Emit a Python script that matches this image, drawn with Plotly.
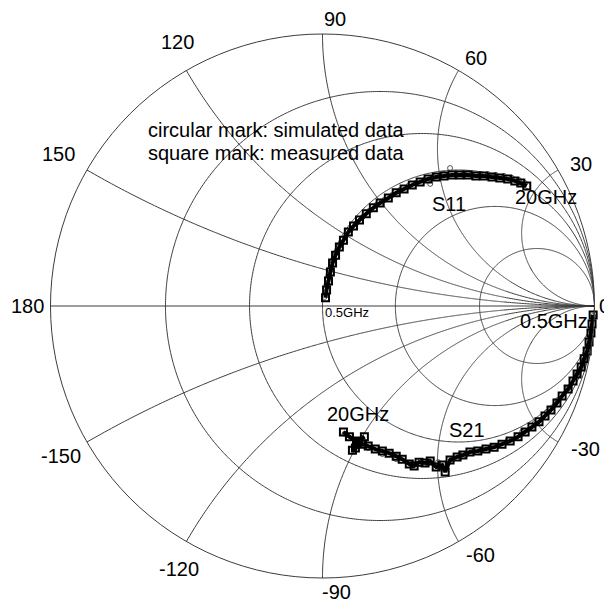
import numpy as np
import plotly.graph_objects as go

# ---------------- data (reflection / transmission coefficient, Re & Im) ----------------
s11_meas_re = [0.011, 0.015, 0.022, 0.029, 0.037, 0.048, 0.062, 0.077, 0.095, 0.114, 0.136, 0.161,
               0.187, 0.212, 0.242, 0.271, 0.300, 0.330, 0.359, 0.388, 0.418, 0.447, 0.476, 0.505,
               0.535, 0.564, 0.593, 0.623, 0.652, 0.681, 0.707, 0.729, 0.751]
s11_meas_im = [0.030, 0.059, 0.092, 0.125, 0.158, 0.187, 0.217, 0.242, 0.272, 0.294, 0.316, 0.339,
               0.361, 0.379, 0.397, 0.416, 0.430, 0.445, 0.456, 0.467, 0.474, 0.478, 0.482, 0.482,
               0.482, 0.478, 0.478, 0.474, 0.471, 0.467, 0.460, 0.452, 0.441]

s11_sim_re = [0.007, 0.011, 0.018, 0.026, 0.037, 0.048, 0.066, 0.084, 0.103, 0.125, 0.147, 0.172,
              0.198, 0.227, 0.256, 0.286, 0.315, 0.344, 0.374, 0.396, 0.418, 0.447, 0.469, 0.491,
              0.520, 0.549, 0.579, 0.608, 0.637, 0.667, 0.696, 0.722, 0.744]
s11_sim_im = [0.033, 0.066, 0.100, 0.133, 0.165, 0.195, 0.224, 0.253, 0.279, 0.305, 0.327, 0.350,
              0.372, 0.390, 0.408, 0.427, 0.441, 0.452, 0.463, 0.449, 0.478, 0.485, 0.507, 0.482,
              0.489, 0.485, 0.485, 0.485, 0.482, 0.478, 0.471, 0.463, 0.452]

s21_meas_re = [0.995, 0.991, 0.987, 0.980, 0.973, 0.962, 0.951, 0.936, 0.921, 0.903, 0.881, 0.862,
               0.840, 0.818, 0.796, 0.770, 0.745, 0.719, 0.690, 0.660, 0.631, 0.601, 0.571, 0.542,
               0.516, 0.495, 0.469, 0.451, 0.440, 0.418, 0.396, 0.377, 0.355, 0.337, 0.319, 0.293,
               0.271, 0.245, 0.220, 0.194, 0.168, 0.147, 0.121, 0.110, 0.132, 0.154, 0.125, 0.099,
               0.077]
s21_meas_im = [-0.033, -0.066, -0.099, -0.132, -0.165, -0.194, -0.224, -0.250, -0.276, -0.305, -0.331,
               -0.357, -0.382, -0.404, -0.426, -0.445, -0.463, -0.481, -0.496, -0.508, -0.519, -0.526,
               -0.533, -0.537, -0.548, -0.555, -0.566, -0.610, -0.585, -0.592, -0.570, -0.577, -0.574,
               -0.588, -0.581, -0.563, -0.552, -0.541, -0.533, -0.526, -0.515, -0.508, -0.522, -0.530,
               -0.500, -0.481, -0.496, -0.481, -0.463]

s21_sim_re = [0.995, 0.990, 0.980, 0.962, 0.936, 0.903, 0.865, 0.825, 0.781, 0.734, 0.682, 0.631,
              0.579, 0.527, 0.476, 0.425, 0.374, 0.322, 0.271, 0.220, 0.168, 0.121, 0.081]
s21_sim_im = [-0.037, -0.088, -0.143, -0.198, -0.250, -0.302, -0.346, -0.390, -0.430, -0.463, -0.492,
              -0.515, -0.533, -0.548, -0.563, -0.574, -0.581, -0.577, -0.563, -0.544, -0.522, -0.496,
              -0.470]

# Smith-chart grid values (normalised resistance / reactance)
grid_r = [0.268, 0.577, 1.0, 1.732, 3.732]
grid_x = [0.268, 0.577, 1.0, 1.732, 3.732]

# angle labels around the chart
angle_text = ["0", "30", "60", "90", "120", "150", "180", "-150", "-120", "-90", "-60", "-30"]

FONT = "Liberation Sans, Arial, sans-serif"


def to_polar(re, im):
    g = np.array(re) + 1j * np.array(im)
    return np.abs(g), np.degrees(np.angle(g))


# ---------------- grid geometry ----------------
grid_rr, grid_th = [], []
t = np.linspace(0, 2 * np.pi, 721)
for r in grid_r:
    g = r / (1 + r) + np.exp(1j * t) / (1 + r)
    grid_rr += list(np.abs(g)) + [None]
    grid_th += list(np.degrees(np.angle(g))) + [None]
rs = np.concatenate([np.linspace(0, 5, 600), np.geomspace(5, 1e4, 300)])
for x in grid_x:
    for sx in (1, -1):
        z = rs + 1j * sx * x
        g = (z - 1) / (z + 1)
        grid_rr += list(np.abs(g)) + [None]
        grid_th += list(np.degrees(np.angle(g))) + [None]
grid_rr += [1, 0, 1]
grid_th += [180, 0, 0]

fig = go.Figure()
fig.add_trace(go.Scatterpolar(r=grid_rr, theta=grid_th, mode="lines",
                              line=dict(color="#3c3c3c", width=1), hoverinfo="skip",
                              showlegend=False))

for re, im in [(s11_sim_re, s11_sim_im), (s21_sim_re, s21_sim_im)]:
    rr, th = to_polar(re, im)
    fig.add_trace(go.Scatterpolar(r=rr, theta=th, mode="markers",
                                  marker=dict(symbol="circle-open", size=5, color="#555555",
                                              line=dict(width=1)),
                                  showlegend=False))
for re, im in [(s11_meas_re, s11_meas_im), (s21_meas_re, s21_meas_im)]:
    rr, th = to_polar(re, im)
    fig.add_trace(go.Scatterpolar(r=rr, theta=th, mode="lines+markers",
                                  line=dict(color="black", width=4),
                                  marker=dict(symbol="square-open", size=7, color="black",
                                              line=dict(width=2)),
                                  showlegend=False))

# page body has an 8px margin: figure is 604x596 placed at (8, 8) of the 612x604 window
OFF = 8
W, H = 604, 596
cx, cy, R = 322.5, 306, 272   # window pixel coordinates of the chart circle


def px(x):
    return (x - OFF) / W


def py(y):
    return 1 - (y - OFF) / H


fig.update_layout(
    width=W, height=H,
    margin=dict(l=0, r=0, t=0, b=0),
    paper_bgcolor="white",
    showlegend=False,
    polar=dict(
        domain=dict(x=[px(cx - R), px(cx + R)], y=[py(cy + R), py(cy - R)]),
        bgcolor="white",
        radialaxis=dict(range=[0, 1], visible=False),
        angularaxis=dict(showgrid=False, showticklabels=False, ticks="",
                         showline=True, linecolor="#3c3c3c", linewidth=1,
                         direction="counterclockwise", rotation=0),
    ),
)

# angle label positions (window pixels, text centre)
angle_pos = [(604, 306), (581, 164), (476, 58), (335, 19), (177, 42), (58, 154),
             (27, 306), (61, 456), (179, 569), (337, 592), (480, 555), (585, 449)]
for text, (x, y) in zip(angle_text, angle_pos):
    fig.add_annotation(text=text, x=px(x), y=py(y), xref="paper", yref="paper",
                       xanchor="center", yanchor="middle", showarrow=False,
                       font=dict(family=FONT, size=20, color="black"))

ann = [
    ("circular mark: simulated data", 146, 130, 20),
    ("square mark: measured data", 146, 153, 20),
    ("S11", 430, 204, 20),
    ("20GHz", 513, 197, 20),
    ("0.5GHz", 323, 312, 13),
    ("0.5GHz", 518, 321, 20),
    ("20GHz", 325, 414, 20),
    ("S21", 447, 430, 20),
]
for text, x, y, size in ann:
    fig.add_annotation(text=text, x=px(x), y=py(y), xref="paper", yref="paper",
                       xanchor="left", yanchor="middle", showarrow=False,
                       font=dict(family=FONT, size=size, color="black"))

fig.write_html("out.html")
